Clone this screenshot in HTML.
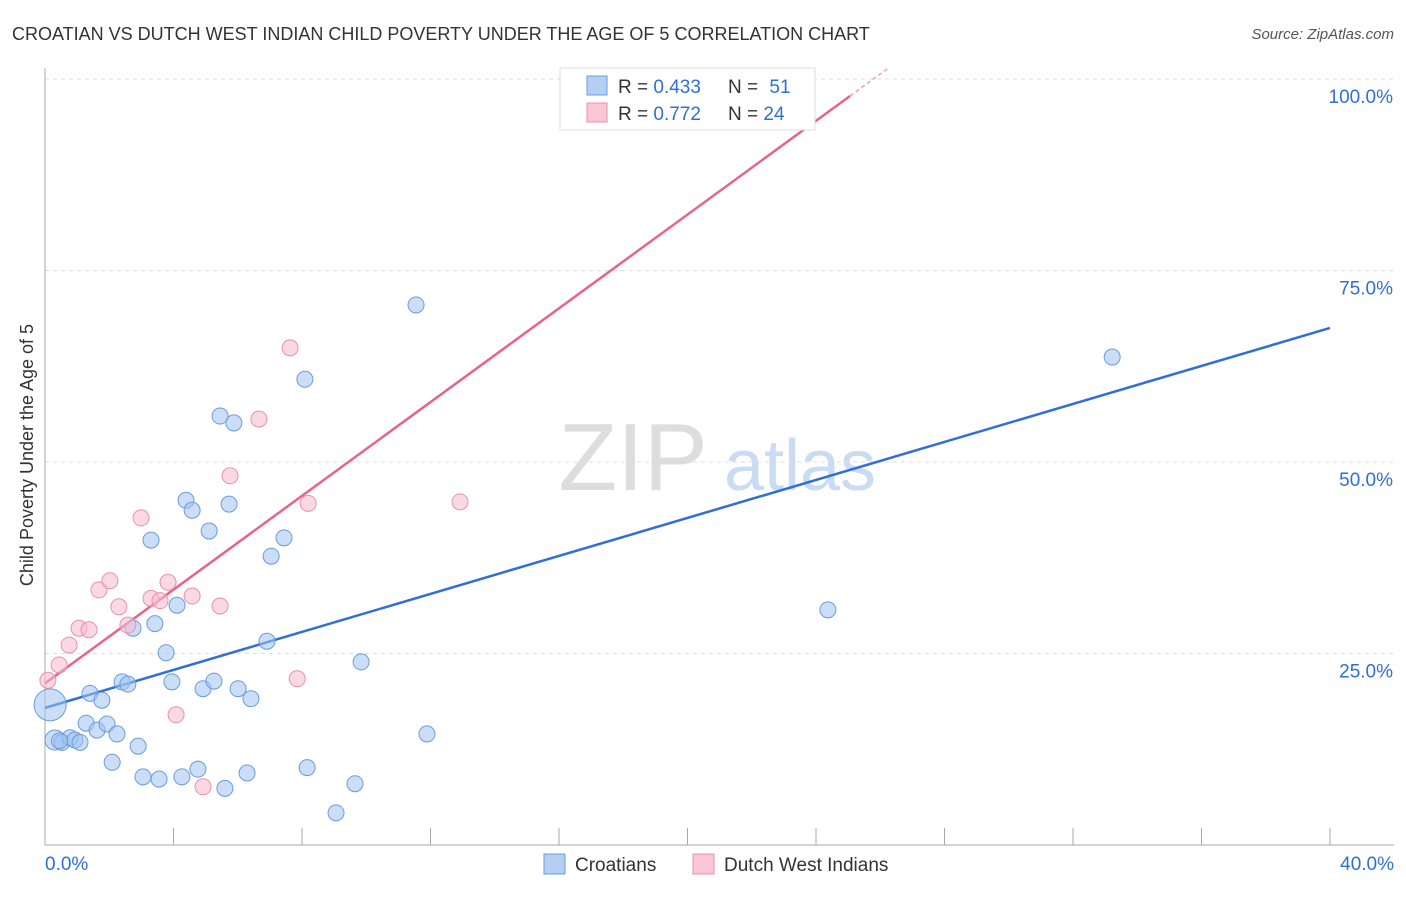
<!DOCTYPE html>
<html><head><meta charset="utf-8">
<style>
body{margin:0;background:#fff;font-family:"Liberation Sans",sans-serif;}
svg text{font-family:"Liberation Sans",sans-serif;}
</style></head><body>
<svg id="chart" width="1406" height="892" xmlns="http://www.w3.org/2000/svg">
<text x="12" y="40" font-size="18" fill="#333">CROATIAN VS DUTCH WEST INDIAN CHILD POVERTY UNDER THE AGE OF 5 CORRELATION CHART</text>
<text x="1394" y="39" font-size="15" fill="#555" font-style="italic" text-anchor="end">Source: ZipAtlas.com</text>
<text transform="translate(33,455) rotate(-90)" font-size="18" fill="#333" text-anchor="middle">Child Poverty Under the Age of 5</text>
<g id="watermark">
<text x="633" y="490" font-size="96" fill="#ddd" font-family="Liberation Serif" text-anchor="middle">ZIP</text>
<text x="800" y="490" font-size="72" fill="#c9dcf3" text-anchor="middle">atlas</text>
</g>
<g id="grid"></g>
<g id="axes"></g>
<g id="lines"></g>
<g id="points"></g>
<g id="legend">
<rect x="560" y="68" width="255" height="62" fill="#fff" stroke="#ddd"/>
<rect x="587" y="76" width="20" height="19" fill="#b5cff3" stroke="#6a9be0"/>
<rect x="587" y="103" width="20" height="19" fill="#f9c6d5" stroke="#ec8fab"/>
<text x="618" y="93" font-size="19" fill="#333">R = <tspan fill="#2f6fd6">0.433</tspan></text>
<text x="728" y="93" font-size="19" fill="#333">N = <tspan fill="#2f6fd6" dx="6">51</tspan></text>
<text x="618" y="120" font-size="19" fill="#333">R = <tspan fill="#2f6fd6">0.772</tspan></text>
<text x="728" y="120" font-size="19" fill="#333">N = <tspan fill="#2f6fd6">24</tspan></text>
</g>
<g id="bottom-legend">
<rect x="544" y="854" width="21" height="20" fill="#b5cff3" stroke="#6a9be0"/>
<text x="575" y="871" font-size="19" fill="#333">Croatians</text>
<rect x="693" y="854" width="21" height="20" fill="#f9c6d5" stroke="#ec8fab"/>
<text x="724" y="871" font-size="19" fill="#333">Dutch West Indians</text>
</g>
</svg>
<script>
const blueX=[0.16,0.31,0.53,0.78,0.93,1.09,1.28,1.40,1.62,1.77,1.93,2.09,2.24,2.40,2.58,2.74,2.90,3.05,3.30,3.42,3.55,3.77,3.95,4.11,4.26,4.39,4.58,4.76,4.92,5.11,5.26,5.45,5.60,5.73,5.88,6.01,6.29,6.41,6.91,7.04,7.44,8.09,8.16,9.06,9.65,9.84,11.55,11.89,24.37,33.22,0.45];
const blueY=[18.3,13.7,13.4,14.0,13.7,13.4,15.9,19.8,15.0,18.9,15.8,10.8,14.5,21.3,21.0,28.3,12.9,8.9,39.8,28.9,8.6,25.1,21.3,31.3,8.9,45.0,43.7,9.9,20.4,41.0,21.4,56.0,7.4,44.5,55.1,20.4,9.4,19.1,26.6,37.7,40.1,60.8,10.1,4.2,8.0,23.9,70.5,14.5,30.7,63.7,13.6];
const pinkX=[0.09,0.44,0.75,1.06,1.37,1.68,2.02,2.30,2.58,2.99,3.30,3.58,3.83,4.08,4.58,4.92,5.45,5.76,6.66,7.63,7.85,8.19,12.92,21.42];
const pinkY=[21.5,23.5,26.1,28.3,28.1,33.3,34.5,31.1,28.7,42.7,32.2,31.9,34.3,17.0,32.5,7.6,31.2,48.2,55.6,64.9,21.7,44.6,44.8,99.9];
const blueFit=[17.9,67.5];
const pinkFit=[21.1,3.06];
const yTicks=[25,50,75,100];
const yTickLabels=["25.0%","50.0%","75.0%","100.0%"];
const xTickCount=10;
const NS="http://www.w3.org/2000/svg";
const X=v=>45+v/40*1285, Y=v=>845-v/100*766;
function mk(tag,attrs,parent){const e=document.createElementNS(NS,tag);for(const k in attrs)e.setAttribute(k,attrs[k]);document.getElementById(parent).appendChild(e);return e;}
yTicks.forEach((t,i)=>{
 const g=mk('line',{x1:45,x2:1394,y1:Y(t),y2:Y(t),stroke:'#ddd','stroke-dasharray':'4,4'},'grid');
 
 
 const l=mk('text',{x:1393,y:Y(t)+24,'font-size':19,fill:'#2f6fd6','text-anchor':'end'},'axes');
 l.textContent=yTickLabels[i];
 
 
});
const ax=mk('line',{x1:45,x2:1394,y1:845,y2:845,stroke:'#aaa'},'axes');


const ay=mk('line',{x1:45,x2:45,y1:68,y2:845,stroke:'#aaa'},'axes');


for(let i=0;i<=xTickCount;i++){
 const t=mk('line',{x1:X(i*4),x2:X(i*4),y1:828,y2:845,stroke:'#aaa'},'axes');
 
 
}
const xl0=mk('text',{x:45,y:870,'font-size':19,fill:'#2f6fd6'},'axes');xl0.textContent='0.0%';


const xl1=mk('text',{x:1394,y:870,'font-size':19,fill:'#2f6fd6','text-anchor':'end'},'axes');xl1.textContent='40.0%';


const bl=mk('line',{x1:X(0),y1:Y(blueFit[0]),x2:X(40),y2:Y(blueFit[1]),stroke:'#2f6fd6','stroke-width':2.5},'lines');


const pxEnd=25.06, pxDash=(100-pinkFit[0])/pinkFit[1]+0.5;
const pl=mk('line',{x1:X(0),y1:Y(pinkFit[0]),x2:X(pxEnd),y2:Y(pinkFit[0]+pinkFit[1]*pxEnd),stroke:'#e8638c','stroke-width':2.5},'lines');


const pd=mk('line',{x1:X(pxEnd),y1:Y(pinkFit[0]+pinkFit[1]*pxEnd),x2:X(pxDash),y2:Y(pinkFit[0]+pinkFit[1]*pxDash),stroke:'#f0a0b8','stroke-width':1.5,'stroke-dasharray':'4,3'},'lines');


blueX.forEach((x,i)=>{
 const r=i===0?16:(i===1?10:8);
 const c=mk('circle',{cx:X(x),cy:Y(blueY[i]),r:r,fill:'rgba(160,195,240,0.55)',stroke:'#6a9be0','stroke-width':1},'points');
 
 
});
pinkX.forEach((x,i)=>{
 const c=mk('circle',{cx:X(x),cy:Y(pinkY[i]),r:8,fill:'rgba(248,185,205,0.55)',stroke:'#ec8fab','stroke-width':1},'points');
 
 
});
</script>
</body></html>
